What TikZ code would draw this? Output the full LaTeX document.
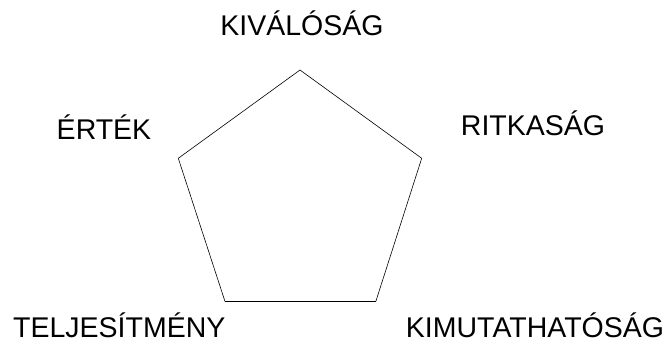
\documentclass[tikz,border=0pt]{standalone}
\usepackage{fontspec}
\setmainfont{Liberation Sans}
\usepackage{tikz}
\pgfdeclarelayer{edgelayer}
\pgfdeclarelayer{nodelayer}
\pgfsetlayers{edgelayer,nodelayer,main}
\tikzstyle{edge}=[draw=black, line width=0.6pt]
\tikzstyle{corner}=[inner sep=0pt, minimum size=0pt]
\tikzstyle{label}=[anchor=base, inner sep=0pt, font=\fontsize{28.5}{30}\selectfont]

\begin{document}
\begin{tikzpicture}[x=1pt, y=1pt]
				\useasboundingbox (0, 0) rectangle (670, 342);
				\begin{pgfonlayer}{nodelayer}
					\node [style=corner] (0) at (300, 272) {};
					\node [style=corner] (1) at (421.7, 183.7) {};
					\node [style=corner] (2) at (375.8, 40.5) {};
					\node [style=corner] (3) at (225, 40.5) {};
					\node [style=corner] (4) at (178.3, 183.7) {};
					\node [style=label] (5) at (302, 306) {KIVÁLÓSÁG};
					\node [style=label] (6) at (533, 206) {RITKASÁG};
					\node [style=label] (7) at (535, 4.7) {KIMUTATHATÓSÁG};
					\node [style=label] (8) at (119.3, 4.5) {TELJESÍTMÉNY};
					\node [style=label] (9) at (104, 202.7) {ÉRTÉK};
				\end{pgfonlayer}
				\begin{pgfonlayer}{edgelayer}
					\draw [style=edge] (0.center) to (1.center);
					\draw [style=edge] (1.center) to (2.center);
					\draw [style=edge] (2.center) to (3.center);
					\draw [style=edge] (3.center) to (4.center);
					\draw [style=edge] (4.center) to (0.center);
				\end{pgfonlayer}
			\end{tikzpicture}
\end{document}
